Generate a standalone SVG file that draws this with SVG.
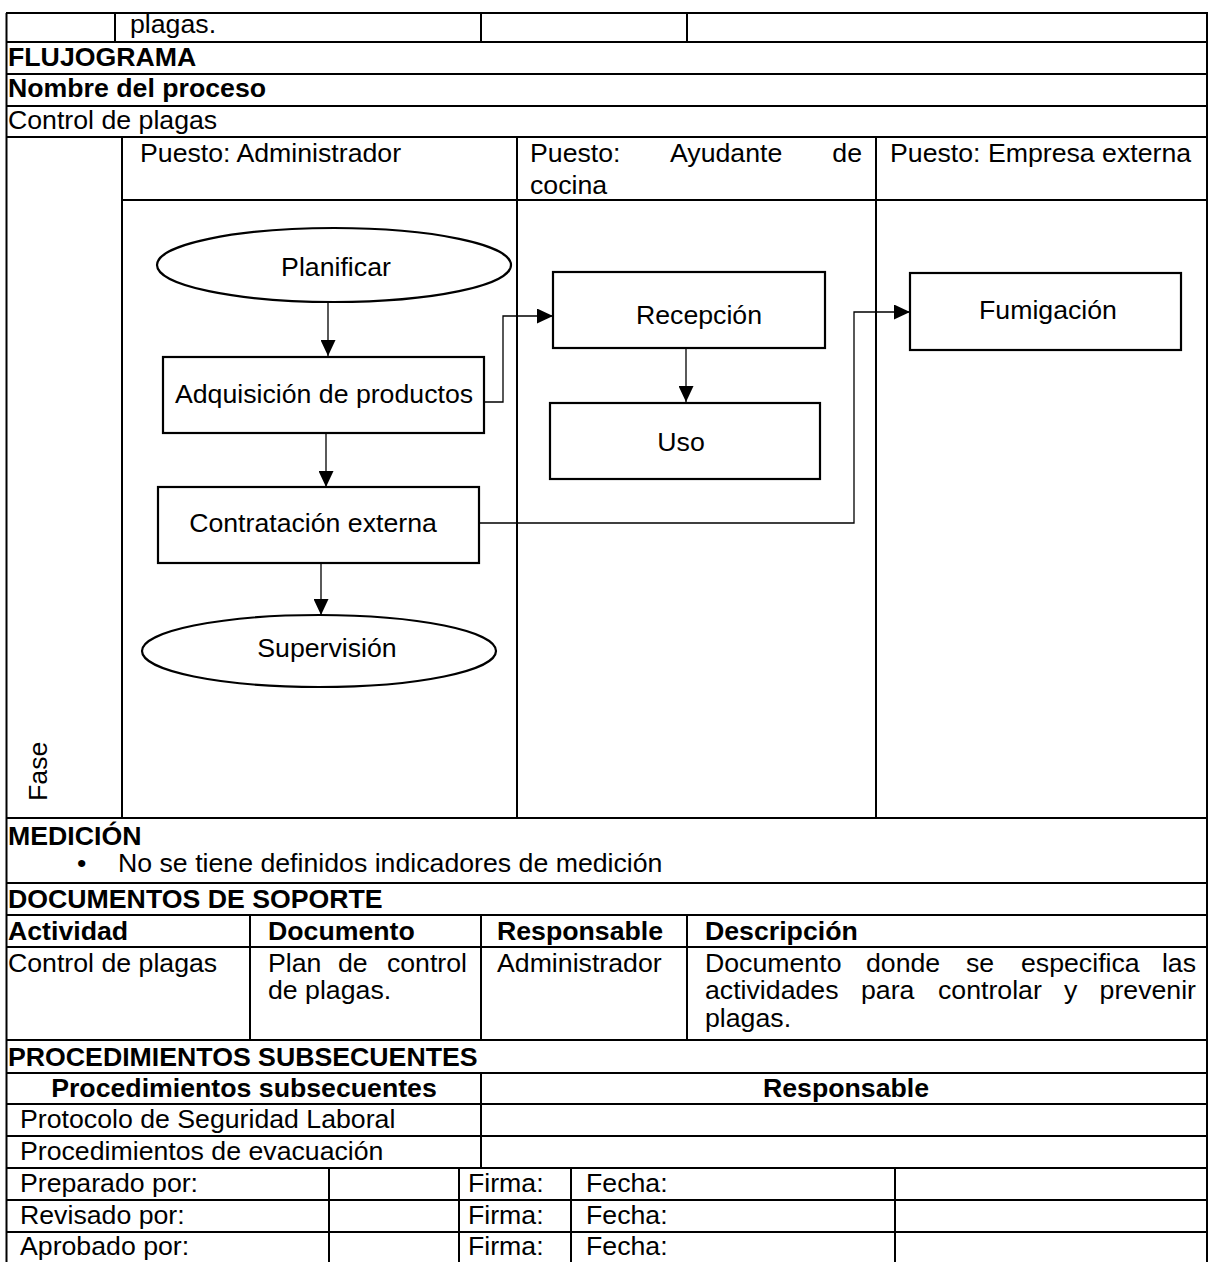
<svg xmlns="http://www.w3.org/2000/svg" width="1213" height="1262" viewBox="0 0 1213 1262">
  <defs>
    <style>
      .t { font-family: "Liberation Sans", Arial, sans-serif; font-size: 26.7px; fill: #000; }
      .b { font-weight: bold; }
      .grid { stroke: #000; stroke-width: 2; fill: none; }
      .shape { stroke: #000; stroke-width: 2.2; fill: #fff; }
      .conn { stroke: #000; stroke-width: 1.3; fill: none; }
    </style>
    <marker id="arrow" viewBox="0 0 16 15" refX="16" refY="7.5" markerWidth="16" markerHeight="15" markerUnits="userSpaceOnUse" orient="auto">
      <path d="M0,0 L16,7.5 L0,15 Z" fill="#000"/>
    </marker>
  </defs>
  <rect width="1213" height="1262" fill="#fff"/>

  <!-- table rules -->
  <g id="table" class="grid">
    <line x1="6.5" y1="13" x2="6.5" y2="1262"/>
    <line x1="1207" y1="13" x2="1207" y2="1262"/>
    <line x1="6" y1="13" x2="1208" y2="13"/>
    <line x1="6" y1="42" x2="1208" y2="42"/>
    <line x1="6" y1="74" x2="1208" y2="74"/>
    <line x1="6" y1="106" x2="1208" y2="106"/>
    <line x1="6" y1="137" x2="1208" y2="137"/>
    <line x1="122" y1="200" x2="1208" y2="200"/>
    <line x1="6" y1="818" x2="1208" y2="818"/>
    <line x1="6" y1="883" x2="1208" y2="883"/>
    <line x1="6" y1="915" x2="1208" y2="915"/>
    <line x1="6" y1="947" x2="1208" y2="947"/>
    <line x1="6" y1="1040" x2="1208" y2="1040"/>
    <line x1="6" y1="1073" x2="1208" y2="1073"/>
    <line x1="6" y1="1104" x2="1208" y2="1104"/>
    <line x1="6" y1="1136" x2="1208" y2="1136"/>
    <line x1="6" y1="1168" x2="1208" y2="1168"/>
    <line x1="6" y1="1200" x2="1208" y2="1200"/>
    <line x1="6" y1="1232" x2="1208" y2="1232"/>
    <!-- first row -->
    <line x1="115" y1="13" x2="115" y2="42"/>
    <line x1="481" y1="13" x2="481" y2="42"/>
    <line x1="687" y1="13" x2="687" y2="42"/>
    <!-- swimlanes -->
    <line x1="122" y1="137" x2="122" y2="818"/>
    <line x1="517" y1="137" x2="517" y2="818"/>
    <line x1="876" y1="137" x2="876" y2="818"/>
    <!-- supporting documents -->
    <line x1="250" y1="915" x2="250" y2="1040"/>
    <line x1="481" y1="915" x2="481" y2="1040"/>
    <line x1="687" y1="915" x2="687" y2="1040"/>
    <!-- subsequent procedures -->
    <line x1="481" y1="1073" x2="481" y2="1168"/>
    <!-- signatures -->
    <line x1="329" y1="1168" x2="329" y2="1262"/>
    <line x1="459" y1="1168" x2="459" y2="1262"/>
    <line x1="571" y1="1168" x2="571" y2="1262"/>
    <line x1="895" y1="1168" x2="895" y2="1262"/>
  </g>

  <!-- table text -->
  <g id="table-text" class="t">
    <text x="130" y="33">plagas.</text>
    <text x="8" y="66" class="b">FLUJOGRAMA</text>
    <text x="8" y="97" class="b">Nombre del proceso</text>
    <text x="8" y="129">Control de plagas</text>

    <text x="140" y="162">Puesto: Administrador</text>
    <text x="530" y="162">Puesto:</text>
    <text x="670" y="162">Ayudante</text>
    <text x="862" y="162" text-anchor="end">de</text>
    <text x="530" y="194">cocina</text>
    <text x="890" y="162">Puesto: Empresa externa</text>
    <text transform="translate(47,801) rotate(-90)">Fase</text>

    <text x="8" y="845" class="b">MEDICIÓN</text>
    <text x="77" y="872">•</text>
    <text x="118" y="872">No se tiene definidos indicadores de medición</text>

    <text x="8" y="908" class="b">DOCUMENTOS DE SOPORTE</text>
    <text x="8" y="940" class="b">Actividad</text>
    <text x="268" y="940" class="b">Documento</text>
    <text x="497" y="940" class="b">Responsable</text>
    <text x="705" y="940" class="b">Descripción</text>

    <text x="8" y="972">Control de plagas</text>
    <text x="268" y="972">Plan</text>
    <text x="338" y="972">de</text>
    <text x="467" y="972" text-anchor="end">control</text>
    <text x="268" y="999">de plagas.</text>
    <text x="497" y="972">Administrador</text>
    <text x="705" y="972">Documento</text>
    <text x="866" y="972">donde</text>
    <text x="966" y="972">se</text>
    <text x="1021" y="972">especifica</text>
    <text x="1196" y="972" text-anchor="end">las</text>
    <text x="705" y="999">actividades</text>
    <text x="861" y="999">para</text>
    <text x="938" y="999">controlar</text>
    <text x="1064" y="999">y</text>
    <text x="1196" y="999" text-anchor="end">prevenir</text>
    <text x="705" y="1027">plagas.</text>

    <text x="8" y="1066" class="b">PROCEDIMIENTOS SUBSECUENTES</text>
    <text x="244" y="1097" class="b" text-anchor="middle">Procedimientos subsecuentes</text>
    <text x="846" y="1097" class="b" text-anchor="middle">Responsable</text>
    <text x="20" y="1128">Protocolo de Seguridad Laboral</text>
    <text x="20" y="1160">Procedimientos de evacuación</text>

    <text x="20" y="1192">Preparado por:</text>
    <text x="468" y="1192">Firma:</text>
    <text x="586" y="1192">Fecha:</text>
    <text x="20" y="1224">Revisado por:</text>
    <text x="468" y="1224">Firma:</text>
    <text x="586" y="1224">Fecha:</text>
    <text x="20" y="1255">Aprobado por:</text>
    <text x="468" y="1255">Firma:</text>
    <text x="586" y="1255">Fecha:</text>
  </g>

  <!-- connectors -->
  <g id="connectors" class="conn">
    <path d="M328,302 V356" marker-end="url(#arrow)"/>
    <path d="M326,433 V487" marker-end="url(#arrow)"/>
    <path d="M321,563 V615" marker-end="url(#arrow)"/>
    <path d="M484,402 H503 V316 H553" marker-end="url(#arrow)"/>
    <path d="M686,348 V402" marker-end="url(#arrow)"/>
    <path d="M479,523 H854 V312 H910" marker-end="url(#arrow)"/>
  </g>

  <!-- flow nodes -->
  <g id="node-planificar">
    <ellipse class="shape" cx="334" cy="265" rx="177" ry="37"/>
    <text class="t" x="336" y="276" text-anchor="middle">Planificar</text>
  </g>
  <g id="node-adquisicion">
    <rect class="shape" x="163" y="357" width="321" height="76"/>
    <text class="t" x="324" y="403" text-anchor="middle">Adquisición de productos</text>
  </g>
  <g id="node-contratacion">
    <rect class="shape" x="158" y="487" width="321" height="76"/>
    <text class="t" x="313" y="532" text-anchor="middle">Contratación externa</text>
  </g>
  <g id="node-supervision">
    <ellipse class="shape" cx="319" cy="651" rx="177" ry="36"/>
    <text class="t" x="327" y="657" text-anchor="middle">Supervisión</text>
  </g>
  <g id="node-recepcion">
    <rect class="shape" x="553" y="272" width="272" height="76"/>
    <text class="t" x="699" y="324" text-anchor="middle">Recepción</text>
  </g>
  <g id="node-uso">
    <rect class="shape" x="550" y="403" width="270" height="76"/>
    <text class="t" x="681" y="451" text-anchor="middle">Uso</text>
  </g>
  <g id="node-fumigacion">
    <rect class="shape" x="910" y="273" width="271" height="77"/>
    <text class="t" x="1048" y="319" text-anchor="middle">Fumigación</text>
  </g>
</svg>
